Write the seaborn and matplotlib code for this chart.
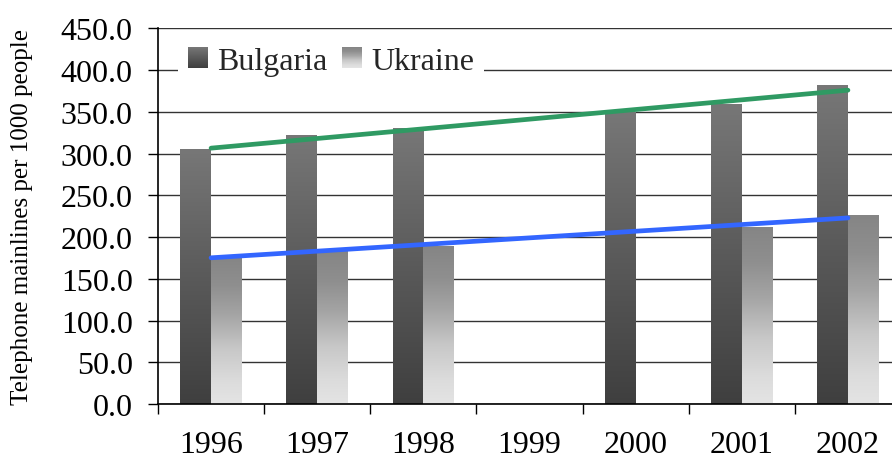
import numpy as np
import pandas as pd
import matplotlib
matplotlib.use("Agg")
import matplotlib.pyplot as plt
import seaborn as sns
from matplotlib.colors import LinearSegmentedColormap, Normalize
from matplotlib.image import BboxImage
from matplotlib.legend_handler import HandlerBase
from matplotlib.patches import Rectangle
from matplotlib.ticker import FormatStrFormatter
from matplotlib.transforms import Bbox, TransformedBbox

# Telephone mainlines per 1000 people
years = ["1996", "1997", "1998", "1999", "2000", "2001", "2002"]
bulgaria = [305, 322, 330, np.nan, 349, 359, 382]
ukraine = [177, 183, 189, np.nan, np.nan, 212, 226]
countries = ["Bulgaria", "Ukraine"]
y_ticks = [0, 50, 100, 150, 200, 250, 300, 350, 400, 450]

sns.set_theme(style="white")
plt.rcParams["font.family"] = ["Liberation Serif", "DejaVu Serif"]

FS = 23

df = pd.DataFrame({
    "year": years * 2,
    "country": [countries[0]] * len(years) + [countries[1]] * len(years),
    "value": bulgaria + ukraine,
})

# vertical fills: value 0 = bar bottom, 1 = bar top
cmap_bg = LinearSegmentedColormap.from_list(
    "bg", [(0.0, "#3f3f3f"), (0.5, "#5a5a5a"), (1.0, "#777777")])
cmap_ua = LinearSegmentedColormap.from_list(
    "ua", [(0.0, "#e4e4e4"), (0.15, "#dcdcdc"), (0.37, "#c8c8c8"),
           (0.6, "#a5a5a5"), (0.8, "#8f8f8f"), (1.0, "#858585")])


class GradientSwatch(HandlerBase):
    def __init__(self, cmap):
        super().__init__()
        self.cmap = cmap

    def create_artists(self, legend, orig_handle, xdescent, ydescent,
                       width, height, fontsize, trans):
        bb = Bbox.from_bounds(-xdescent, -ydescent, width, height)
        img = BboxImage(TransformedBbox(bb, trans), cmap=self.cmap,
                        norm=Normalize(0, 1), interpolation="bilinear")
        img.set_data(np.linspace(1, 0, 64).reshape(-1, 1))
        return [img]


fig = plt.figure(figsize=(8.92, 4.64), dpi=100)
ax = fig.add_axes([158 / 892, 59 / 464, 743 / 892, 375.7 / 464])

sns.barplot(data=df, x="year", y="value", hue="country", order=years,
            hue_order=countries, width=0.58, errorbar=None, legend=False,
            saturation=1, linewidth=0, ax=ax)

grad = np.linspace(0, 1, 256).reshape(-1, 1)
for container, cmap in zip(ax.containers, [cmap_bg, cmap_ua]):
    for bar in container:
        h = bar.get_height()
        if not np.isfinite(h) or h <= 0:
            continue
        x0, w = bar.get_x(), bar.get_width()
        ax.imshow(grad, extent=[x0, x0 + w, 0, h], origin="lower",
                  aspect="auto", cmap=cmap, vmin=0, vmax=1, zorder=1.5,
                  interpolation="bilinear")
        bar.set_facecolor("none")

# linear trend lines
idx = np.arange(len(years))
sns.regplot(x=idx, y=np.array(bulgaria, dtype=float), scatter=False, ci=None,
            truncate=True, color="#2f9a63",
            line_kws=dict(linewidth=3.4, solid_capstyle="round", zorder=4), ax=ax)
sns.regplot(x=idx, y=np.array(ukraine, dtype=float), scatter=False, ci=None,
            truncate=True, color="#3366ff",
            line_kws=dict(linewidth=3.4, solid_capstyle="round", zorder=4), ax=ax)

ax.set_xlim(-0.5, len(years) - 0.5)
ax.set_ylim(0, 450)

ax.set_yticks(y_ticks)
ax.yaxis.set_major_formatter(FormatStrFormatter("%.1f"))
ax.tick_params(axis="y", which="major", left=True, direction="out",
               length=7.2, width=1, color="black", pad=11.0, labelsize=FS,
               labelcolor="black")

ax.set_xticks(idx)
ax.set_xticklabels(years)
ax.set_xticks(np.arange(-0.5, len(years), 1), minor=True)
ax.tick_params(axis="x", which="major", bottom=False, length=0, pad=18.5,
               labelsize=FS, labelcolor="black")
ax.tick_params(axis="x", which="minor", bottom=True, direction="out",
               length=7, width=1, color="black")

ax.yaxis.grid(True, color="#333333", linewidth=1.0)
ax.xaxis.grid(False)
ax.set_axisbelow(True)

for side in ["top", "right"]:
    ax.spines[side].set_visible(False)
for side in ["left", "bottom"]:
    ax.spines[side].set_color("black")
    ax.spines[side].set_linewidth(1.2)

ax.set_xlabel("")
ax.set_ylabel("Telephone mainlines per 1000 people", fontsize=18,
              color="black", labelpad=20)

h_bg = Rectangle((0, 0), 1, 1)
h_ua = Rectangle((0, 0), 1, 1)
ax.legend([h_bg, h_ua], countries,
          handler_map={h_bg: GradientSwatch(cmap_bg), h_ua: GradientSwatch(cmap_ua)},
          ncol=2, loc="upper left", bbox_to_anchor=(0.027, 0.975),
          frameon=True, fancybox=False, framealpha=1, facecolor="white",
          edgecolor="none", fontsize=FS, handlelength=0.62, handleheight=0.62,
          handletextpad=0.3, columnspacing=0.45, borderpad=0.3,
          borderaxespad=0)

fig.savefig("out.png", dpi=100)
